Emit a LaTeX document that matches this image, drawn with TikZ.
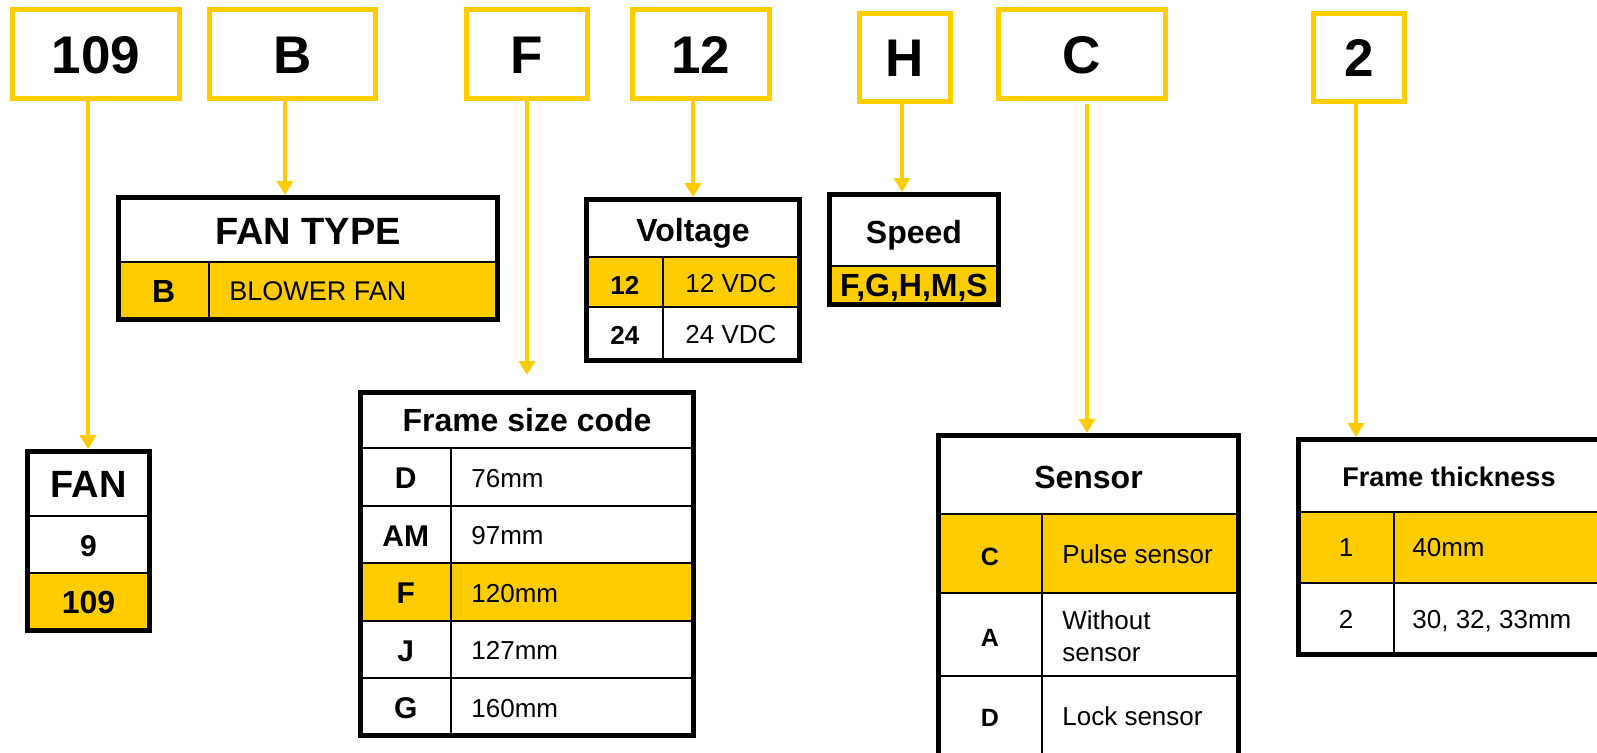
\documentclass[tikz,border=0pt]{standalone}
\usepackage{fontspec}
\setmainfont{Liberation Sans}
\usepackage{tikz}
\usetikzlibrary{arrows.meta,calc}
\usepackage{xcolor}
\definecolor{fanyellow}{RGB}{255,204,0}

\tikzset{
  codebox/.style={draw=fanyellow, line width=2.4pt, minimum height=44.5pt, inner sep=0pt,
    font=\bfseries\fontsize{26.5}{30}\selectfont, text height=19pt, text depth=0pt},
  link/.style={fanyellow, line width=2pt, -{Triangle[width=8pt,length=7pt]}},
  tframe/.style={line width=2.5pt},
  rule/.style={line width=0.8pt},
  hl/.style={fill=fanyellow},
  head/.style={font=\bfseries\fontsize{16}{19}\selectfont, text height=11.5pt, text depth=0pt, inner sep=0pt},
  bighead/.style={head, font=\bfseries\fontsize{19}{22}\selectfont, text height=13.6pt},
  keytxt/.style={font=\bfseries\fontsize{15}{18}\selectfont, text height=10.7pt, text depth=0pt, inner sep=0pt},
  valtxt/.style={font=\fontsize{13}{16}\selectfont, text height=9.3pt, text depth=0pt, inner sep=0pt, anchor=west}
}

\begin{document}
\begin{tikzpicture}[x=0.5pt,y=-0.5pt]
  \useasboundingbox (0,0) rectangle (1597,752);
  \clip (0,0) rectangle (1597,752);

  % Code boxes (top row)
  \node[codebox, minimum width=83.5pt] (c109) at (96,54) {109};
  \node[codebox, minimum width=83pt] (cB) at (292.5,54) {B};
  \node[codebox, minimum width=60.5pt] (cF) at (527,54) {F};
  \node[codebox, minimum width=68.5pt] (c12) at (701,54) {12};
  \node[codebox, minimum width=45.5pt, minimum height=44pt] (cH) at (905,57.5) {H};
  \node[codebox, minimum width=83.5pt] (cC) at (1082,54) {C};
  \node[codebox, minimum width=45.5pt, minimum height=44pt] (c2) at (1359,57.5) {2};

  % Arrow ends on the tables
  \coordinate (tFan) at (88,449);
  \coordinate (tType) at (285,195);
  \coordinate (tSize) at (527,375);
  \coordinate (tVolt) at (693,197);
  \coordinate (tSpeed) at (902,192);
  \coordinate (tSens) at (1087,433);
  \coordinate (tThick) at (1356,437);

  \draw[link] (c109.south -| tFan) -- (tFan);
  \draw[link] (cB.south -| tType) -- (tType);
  \draw[link] (cF.south -| tSize) -- (tSize);
  \draw[link] (c12.south -| tVolt) -- (tVolt);
  \draw[link] (cH.south -| tSpeed) -- (tSpeed);
  \draw[link, shorten <=1.5pt] (cC.south -| tSens) -- (tSens);
  \draw[link] (c2.south -| tThick) -- (tThick);

  % FAN
  \fill[hl] (27.5,573) rectangle (149.5,630.5);
  \draw[rule] (27.5,516) -- (149.5,516) (27.5,573) -- (149.5,573);
  \draw[tframe] (27.5,451.5) rectangle (149.5,630.5);
  \node[bighead] (fanHead) at (88.5,484) {FAN};
  \node[keytxt] (fan9) at (88.5,545.5) {9};
  \node[keytxt, font=\bfseries\fontsize{16}{19}\selectfont] (fan109) at (88.5,602.5) {109};

  % FAN TYPE
  \fill[hl] (118.5,262) rectangle (497.5,319.5);
  \draw[rule] (118.5,262) -- (497.5,262) (209,262) -- (209,319.5);
  \draw[tframe] (118.5,197.5) rectangle (497.5,319.5);
  \node[bighead] (typeHead) at (308,231) {FAN TYPE};
  \node[keytxt, font=\bfseries\fontsize{16}{19}\selectfont] (typeB) at (163.75,291.5) {B};
  \node[valtxt, font=\fontsize{13.5}{16}\selectfont] (typeBlower) at (229,291.5) {BLOWER FAN};

  % Voltage
  \fill[hl] (586.5,257) rectangle (799.5,307);
  \draw[rule] (586.5,257) -- (799.5,257) (586.5,307) -- (799.5,307) (663,257) -- (663,360.5);
  \draw[tframe] (586.5,199.5) rectangle (799.5,360.5);
  \node[head] (voltHead) at (693,230) {Voltage};
  \node[keytxt, font=\bfseries\fontsize{13}{16}\selectfont] (volt12) at (624.75,283.5) {12};
  \node[valtxt, anchor=center] (volt12v) at (731,283.5) {12 VDC};
  \node[keytxt, font=\bfseries\fontsize{13}{16}\selectfont] (volt24) at (624.75,334) {24};
  \node[valtxt, anchor=center] (volt24v) at (731,334) {24 VDC};

  % Speed
  \fill[hl] (829.5,266) rectangle (998.5,304.5);
  \draw[rule] (829.5,266) -- (998.5,266);
  \draw[tframe] (829.5,194.5) rectangle (998.5,304.5);
  \node[head] (speedHead) at (914,231.5) {Speed};
  \node[keytxt, font=\bfseries\fontsize{16}{19}\selectfont] (speedList) at (914,285.5) {F,G,H,M,S};

  % Frame size code
  \fill[hl] (360.5,563) rectangle (693.5,621);
  \foreach \y in {448,506,563,621,678}
    \draw[rule] (360.5,\y) -- (693.5,\y);
  \draw[rule] (451,448) -- (451,735.5);
  \draw[tframe] (360.5,392.5) rectangle (693.5,735.5);
  \node[head] (sizeHead) at (527,420) {Frame size code};
  \foreach \k/\v/\y in {D/76mm/478, AM/97mm/535.5, F/120mm/593, J/127mm/650.5, G/160mm/708} {
    \node[keytxt] (size\k) at (405.75,\y) {\k};
    \node[valtxt] (size\k v) at (471,\y) {\v};
  }

  % Sensor
  \fill[hl] (938.5,514) rectangle (1238.5,593);
  \draw[rule] (938.5,514) -- (1238.5,514) (938.5,593) -- (1238.5,593)
    (938.5,676) -- (1238.5,676) (1042,514) -- (1042,760);
  \draw[tframe] (938.5,760) -- (938.5,435.5) -- (1238.5,435.5) -- (1238.5,760) -- cycle;
  \node[head] (sensHead) at (1088.5,476.5) {Sensor};
  \node[keytxt, font=\bfseries\fontsize{12.5}{15}\selectfont] (sensC) at (990,554.5) {C};
  \node[valtxt] (sensPulse) at (1062,554.5) {Pulse sensor};
  \node[keytxt, font=\bfseries\fontsize{12.5}{15}\selectfont] (sensA) at (990,636) {A};
  \node[font=\fontsize{13}{16}\selectfont, align=left, anchor=west, inner sep=0pt] (sensWithout) at (1062,636.5) {Without\\sensor};
  \node[keytxt, font=\bfseries\fontsize{12.5}{15}\selectfont] (sensD) at (990,716) {D};
  \node[valtxt] (sensLock) at (1062,716) {Lock sensor};

  % Frame thickness
  \fill[hl] (1298.5,512) rectangle (1610,583);
  \draw[rule] (1298.5,512) -- (1610,512) (1298.5,583) -- (1610,583) (1394,512) -- (1394,654.5);
  \draw[tframe] (1610,439.5) -- (1298.5,439.5) -- (1298.5,654.5) -- (1610,654.5);
  \node[head, font=\bfseries\fontsize{13.5}{16}\selectfont, text height=9.7pt] (thickHead) at (1449,476.5) {Frame thickness};
  \node[valtxt, anchor=center] (thick1) at (1346,547.5) {1};
  \node[valtxt] (thick40) at (1412,547.5) {40mm};
  \node[valtxt, anchor=center] (thick2) at (1346,619) {2};
  \node[valtxt] (thick30) at (1412,619) {30, 32, 33mm};
\end{tikzpicture}
\end{document}
